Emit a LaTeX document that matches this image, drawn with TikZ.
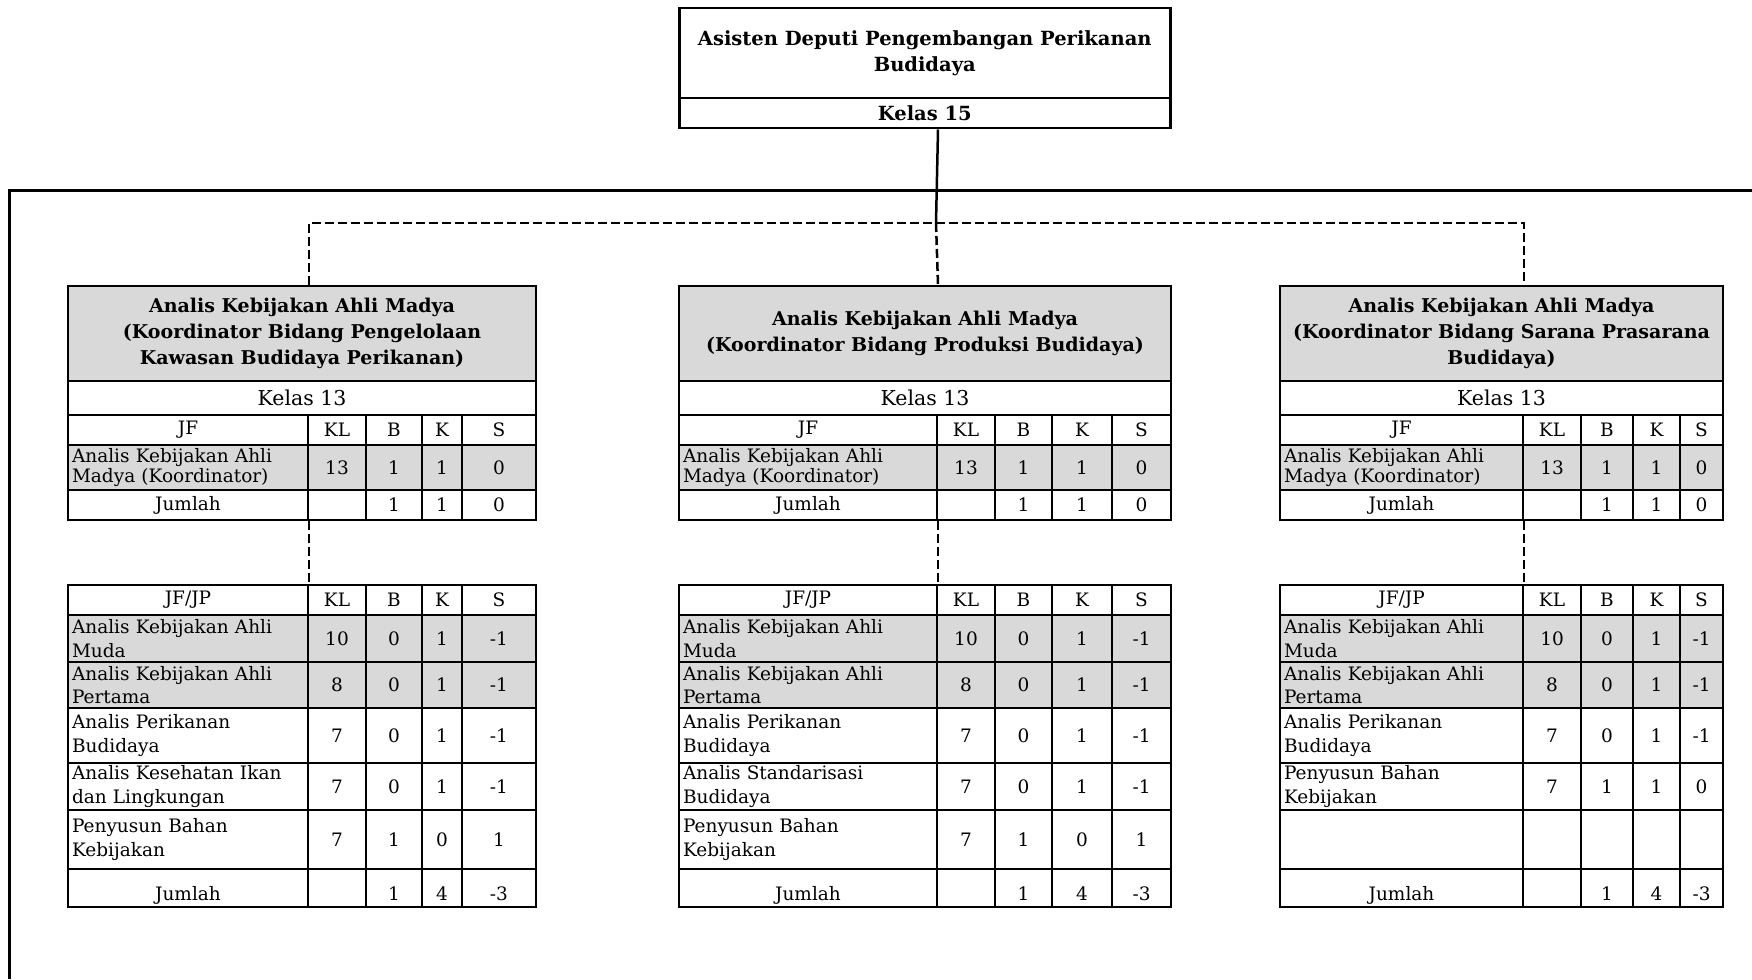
\documentclass[tikz,border=0pt]{standalone}
\usepackage{fontspec}
\setmainfont{DejaVu Serif}
\definecolor{cellgray}{HTML}{D9D9D9}
\newcommand\Cell[7]{%
 \pgfmathsetmacro\cw{#4-#2}\pgfmathsetmacro\ch{#5-#3}\pgfmathsetmacro\tw{#4-#2-8}%
 \node[cellbox,minimum width=\cw pt,minimum height=\ch pt,#6] (#1) at (#2,#3) {#7};}
\newcommand\SetCols[6]{\def\ca{#1}\def\cb{#2}\def\cc{#3}\def\cd{#4}\def\ce{#5}\def\cf{#6}}
\newcommand\RowL[9]{%
 \Cell{#1-a}{\ca}{#2}{\cb}{#3}{#4,lcell}{#5}%
 \Cell{#1-b}{\cb}{#2}{\cc}{#3}{#4}{#6}%
 \Cell{#1-c}{\cc}{#2}{\cd}{#3}{#4}{#7}%
 \Cell{#1-d}{\cd}{#2}{\ce}{#3}{#4}{#8}%
 \Cell{#1-e}{\ce}{#2}{\cf}{#3}{#4}{#9}}
\newcommand\RowC[9]{%
 \Cell{#1-a}{\ca}{#2}{\cb}{#3}{#4}{#5}%
 \Cell{#1-b}{\cb}{#2}{\cc}{#3}{#4}{#6}%
 \Cell{#1-c}{\cc}{#2}{\cd}{#3}{#4}{#7}%
 \Cell{#1-d}{\cd}{#2}{\ce}{#3}{#4}{#8}%
 \Cell{#1-e}{\ce}{#2}{\cf}{#3}{#4}{#9}}
\newcommand\Bot[1]{\smash{\raisebox{-12pt}{#1}}}
\tikzset{
 cellbox/.style={draw, line width=2pt, inner sep=0pt, anchor=north west},
 gray/.style={fill=cellgray},
 lcell/.style={text width=\tw pt, align=left},
 uptxt/.style={font=\fontsize{18.5}{20.5}\selectfont},
 lowtxt/.style={font=\fontsize{18.5}{23.5}\selectfont},
 headtxt/.style={font=\fontsize{19}{26}\selectfont\bfseries, align=center},
 kelastxt/.style={font=\fontsize{20.5}{22}\selectfont},
 topbox/.style={cellbox, line width=2.5pt},
 conn/.style={line width=2.5pt},
 bus/.style={line width=3pt},
 dconn/.style={line width=2.5pt, dash pattern=on 9pt off 4pt},
}
\begin{document}
\begin{tikzpicture}[x=1pt,y=-1pt,font=\fontsize{18.5}{20}\selectfont]
\useasboundingbox (0,0) rectangle (1752,979);
% top box
\Cell{top}{678}{7}{1169}{97}{topbox,headtxt,font=\fontsize{19.5}{26}\selectfont\bfseries}{Asisten Deputi Pengembangan Perikanan\\Budidaya}
\Cell{k15}{678}{97}{1169}{127}{topbox,headtxt,font=\fontsize{19.5}{26}\selectfont\bfseries}{Kelas 15}
% ---------- left tables
\SetCols{67}{307}{365}{421}{461}{535}
\Cell{L-h}{67}{285}{535}{380}{gray,headtxt}{Analis Kebijakan Ahli Madya\\(Koordinator Bidang Pengelolaan\\Kawasan Budidaya Perikanan)}
\Cell{L-k}{67}{380}{535}{414}{kelastxt}{Kelas 13}
\RowC{L-jf}{414}{444}{uptxt}{JF}{KL}{B}{K}{S}
\RowL{L-m}{444}{489}{gray,uptxt}{Analis Kebijakan Ahli\\Madya (Koordinator)}{13}{1}{1}{0}
\RowC{L-sum}{489}{519}{uptxt}{Jumlah}{}{1}{1}{0}
\RowC{L-top}{584}{614}{lowtxt}{JF/JP}{KL}{B}{K}{S}
\RowL{L-r1}{614}{661}{gray,lowtxt}{Analis Kebijakan Ahli\\Muda}{10}{0}{1}{-1}
\RowL{L-r2}{661}{707}{gray,lowtxt}{Analis Kebijakan Ahli\\Pertama}{8}{0}{1}{-1}
\RowL{L-r3}{707}{762}{lowtxt}{Analis Perikanan\\Budidaya}{7}{0}{1}{-1}
\RowL{L-r4}{762}{809}{lowtxt}{Analis Kesehatan Ikan\\dan Lingkungan}{7}{0}{1}{-1}
\RowL{L-r5}{809}{868}{lowtxt}{Penyusun Bahan\\Kebijakan}{7}{1}{0}{1}
\RowC{L-tot}{868}{906}{lowtxt}{\Bot{Jumlah}}{}{\Bot{1}}{\Bot{4}}{\Bot{-3}}
% ---------- middle tables
\SetCols{678}{936}{994}{1051}{1111}{1170}
\Cell{M-h}{678}{285}{1170}{380}{gray,headtxt}{Analis Kebijakan Ahli Madya\\(Koordinator Bidang Produksi Budidaya)}
\Cell{M-k}{678}{380}{1170}{414}{kelastxt}{Kelas 13}
\RowC{M-jf}{414}{444}{uptxt}{JF}{KL}{B}{K}{S}
\RowL{M-m}{444}{489}{gray,uptxt}{Analis Kebijakan Ahli\\Madya (Koordinator)}{13}{1}{1}{0}
\RowC{M-sum}{489}{519}{uptxt}{Jumlah}{}{1}{1}{0}
\RowC{M-top}{584}{614}{lowtxt}{JF/JP}{KL}{B}{K}{S}
\RowL{M-r1}{614}{661}{gray,lowtxt}{Analis Kebijakan Ahli\\Muda}{10}{0}{1}{-1}
\RowL{M-r2}{661}{707}{gray,lowtxt}{Analis Kebijakan Ahli\\Pertama}{8}{0}{1}{-1}
\RowL{M-r3}{707}{762}{lowtxt}{Analis Perikanan\\Budidaya}{7}{0}{1}{-1}
\RowL{M-r4}{762}{809}{lowtxt}{Analis Standarisasi\\Budidaya}{7}{0}{1}{-1}
\RowL{M-r5}{809}{868}{lowtxt}{Penyusun Bahan\\Kebijakan}{7}{1}{0}{1}
\RowC{M-tot}{868}{906}{lowtxt}{\Bot{Jumlah}}{}{\Bot{1}}{\Bot{4}}{\Bot{-3}}
% ---------- right tables
\SetCols{1279}{1522}{1580}{1632}{1679}{1722}
\Cell{R-h}{1279}{285}{1722}{380}{gray,headtxt}{Analis Kebijakan Ahli Madya\\(Koordinator Bidang Sarana Prasarana\\Budidaya)}
\Cell{R-k}{1279}{380}{1722}{414}{kelastxt}{Kelas 13}
\RowC{R-jf}{414}{444}{uptxt}{JF}{KL}{B}{K}{S}
\RowL{R-m}{444}{489}{gray,uptxt}{Analis Kebijakan Ahli\\Madya (Koordinator)}{13}{1}{1}{0}
\RowC{R-sum}{489}{519}{uptxt}{Jumlah}{}{1}{1}{0}
\RowC{R-top}{584}{614}{lowtxt}{JF/JP}{KL}{B}{K}{S}
\RowL{R-r1}{614}{661}{gray,lowtxt}{Analis Kebijakan Ahli\\Muda}{10}{0}{1}{-1}
\RowL{R-r2}{661}{707}{gray,lowtxt}{Analis Kebijakan Ahli\\Pertama}{8}{0}{1}{-1}
\RowL{R-r3}{707}{762}{lowtxt}{Analis Perikanan\\Budidaya}{7}{0}{1}{-1}
\RowL{R-r4}{762}{809}{lowtxt}{Penyusun Bahan\\Kebijakan}{7}{1}{1}{0}
\RowC{R-r5}{809}{868}{lowtxt}{}{}{}{}{}
\RowC{R-tot}{868}{906}{lowtxt}{\Bot{Jumlah}}{}{\Bot{1}}{\Bot{4}}{\Bot{-3}}
% ---------- connectors
\coordinate (busB) at (9,979);
\coordinate (busR) at (1752,190);
\coordinate (jn) at (936,223);
\draw[bus] (busB) |- (busR);
\draw[conn] (k15.south -| M-jf-a.east) -- (jn);
\draw[dconn] (L-jf-a.east |- L-h.north) |- (R-jf-a.east |- jn) -- (R-jf-a.east |- R-h.north);
\draw[dconn] (jn) -- (M-jf-a.east |- M-h.north);
\draw[dconn] (L-sum-a.south east) -- (L-top-a.north east);
\draw[dconn] (M-sum-a.south east) -- (M-top-a.north east);
\draw[dconn] (R-sum-a.south east) -- (R-top-a.north east);
\end{tikzpicture}
\end{document}
